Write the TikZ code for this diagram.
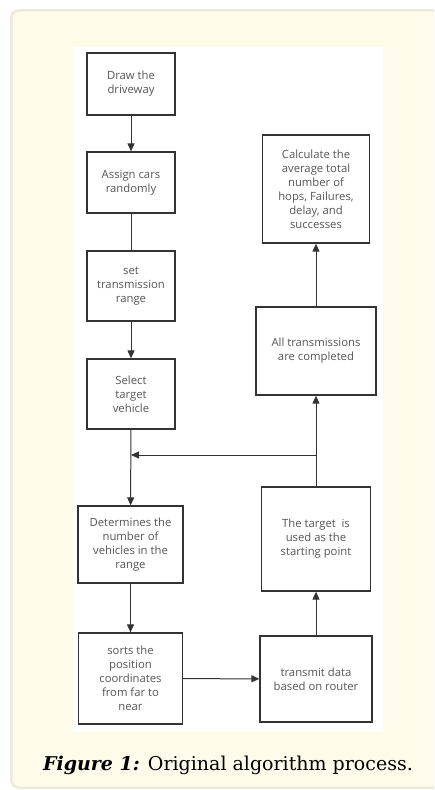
\documentclass[tikz,border=0pt]{standalone}
\usepackage{fontspec}
\setmainfont{DejaVu Serif}
\newfontfamily\boxfont{Open Sans}
\usetikzlibrary{arrows.meta}
\definecolor{panelfill}{HTML}{FFFBEA}
\definecolor{panelrim}{HTML}{EDEADC}
\definecolor{boxline}{HTML}{333333}
\definecolor{boxtext}{HTML}{555555}

\begin{document}
\begin{tikzpicture}[x=1pt,y=-1pt]
\tikzstyle{every node}+=[inner sep=0pt]
\tikzstyle{box}=[draw=boxline, line width=1.3pt, fill=white, align=center,
  text=boxtext, font=\boxfont\fontsize{11.3}{14}\selectfont]
\tikzstyle{flow}=[draw=boxline, line width=1pt]
\tikzstyle{arrow}=[flow, -{Triangle[length=8pt,width=7pt]}]
\useasboundingbox (0,0) rectangle (434,790);
% panel and picture area
\begin{scope}
\clip (0,0) rectangle (434,790);
\fill [panelrim, rounded corners=9pt] (10,9) rectangle (450,789);
\fill [panelfill, rounded corners=7pt] (12.5,11.5) rectangle (450,786.5);
\end{scope}
\fill [white] (73,47) rectangle (383,732);
% left column
\node [box, minimum width=88, minimum height=62] (draw) at (131,84) {Draw the\\driveway};
\node [box, minimum width=88, minimum height=61] (assign) at (131,182.5) {Assign cars\\randomly};
\node [box, minimum width=88, minimum height=70] (range) at (131,286) {set\\transmission\\range};
\node [box, minimum width=88, minimum height=70] (select) at (131,394) {Select\\target\\vehicle};
\node [box, minimum width=105, minimum height=77] (count) at (130.5,544.5) {Determines the\\number of\\vehicles in the\\range};
\node [box, minimum width=104, minimum height=91] (sort) at (130.5,678.5) {sorts the\\position\\coordinates\\from far to\\near};
% right column
\node [box, minimum width=112, minimum height=86] (send) at (316,679) {transmit data\\based on router};
\node [box, minimum width=109, minimum height=104] (start) at (316,539) {The target\enspace is\\used as the\\starting point};
\node [box, minimum width=120, minimum height=88] (done) at (316,351) {All transmissions\\are completed};
\node [box, minimum width=107, minimum height=108] (calc) at (316,189) {Calculate the\\average total\\number of\\hops, Failures,\\delay, and\\successes};
\coordinate (join) at (131,455);
\coordinate (split) at (316,455);
% connectors
\draw [arrow] (draw) -- (assign);
\draw [flow] (assign) -- (range);
\draw [arrow] (range) -- (select);
\draw [arrow] (select) -- (count);
\draw [arrow] (count) -- (sort);
\draw [arrow] (sort) -- (send);
\draw [arrow] (send) -- (start);
\draw [arrow] (start) -- (done);
\draw [arrow] (split) -- (join);
\draw [arrow] (done) -- (calc);
% caption
\node (caption) at (228,765) {\fontsize{19}{22}\selectfont\textbf{\textit{Figure 1:}} Original algorithm process.};
\end{tikzpicture}
\end{document}
